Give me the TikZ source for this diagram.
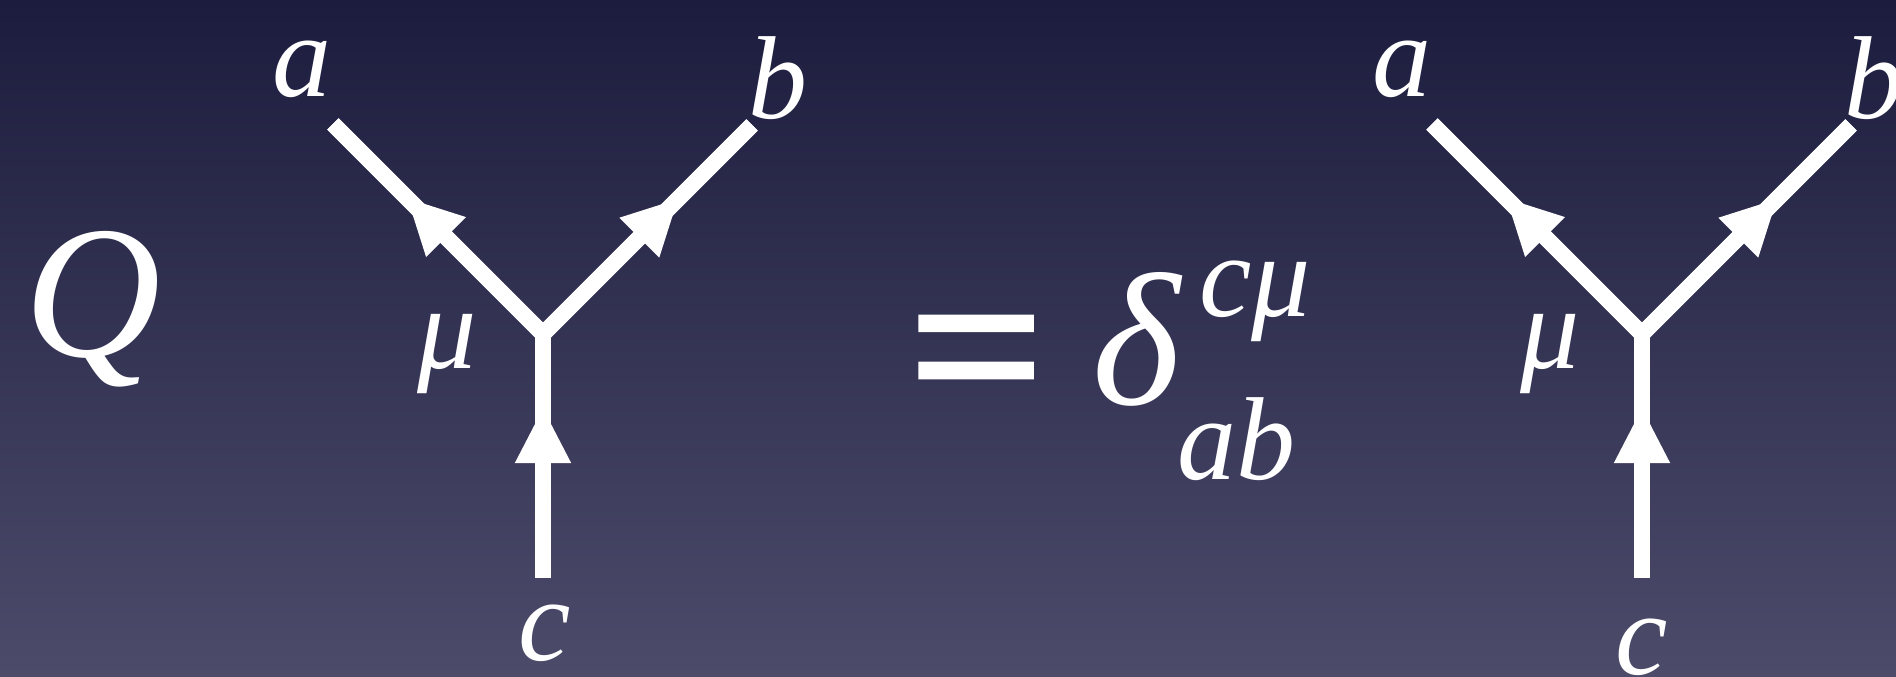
\documentclass[tikz,border=0pt]{standalone}
\usepackage{fontspec}
\setmainfont{Liberation Serif}
\newfontfamily\eqfont{Liberation Serif}[FakeBold=2.5]
\usetikzlibrary{arrows.meta,decorations.markings,calc}
\definecolor{bgtop}{RGB}{28,28,62}
\definecolor{bgbot}{RGB}{76,75,106}
\begin{document}
\begin{tikzpicture}[x=1pt,y=1pt,
  leg/.style={white,line width=16pt,line cap=butt,line join=miter},
  midarrow/.style={postaction={decorate},decoration={markings,mark=at position #1 with {\arrow{Triangle[length=56pt,width=52pt]}}}},
  lbl/.style={text=white,font=\fontsize{118}{118}\selectfont\itshape,inner sep=0pt,anchor=base},
  big/.style={text=white,font=\fontsize{189}{189}\selectfont\itshape,inner sep=0pt,anchor=base},
  eqsign/.style={text=white,font=\fontsize{235}{235}\eqfont,inner sep=0pt,anchor=base}]
\shade[top color=bgtop,bottom color=bgbot] (0,0) rectangle (1896,677);
\useasboundingbox (0,0) rectangle (1896,677);
% left vertex
\coordinate (v1) at (543,343);
\coordinate (e1a) at (333,553);
\coordinate (e1b) at (752,552);
\coordinate (e1c) at (543,99);
\draw[leg] (e1a) -- (v1) -- (e1b);
\draw[leg,midarrow=0.65] (v1) -- (e1a);
\draw[leg,midarrow=0.65] (v1) -- (e1b);
\draw[leg,midarrow=0.70] (e1c) -- (v1);
% right vertex
\coordinate (v2) at (1642,343);
\coordinate (e2a) at (1432,553);
\coordinate (e2b) at (1851,552);
\coordinate (e2c) at (1642,99);
\draw[leg] (e2a) -- (v2) -- (e2b);
\draw[leg,midarrow=0.65] (v2) -- (e2a);
\draw[leg,midarrow=0.65] (v2) -- (e2b);
\draw[leg,midarrow=0.70] (e2c) -- (v2);
% labels
\node[big] (Q) at (93,320) {Q};
\node[lbl] (la1) at (302,580) {a};
\node[lbl] (lb1) at (778,558) {b};
\node[lbl] (lm1) at (447,308) {μ};
\node[lbl] (lc1) at (545,16) {c};
\node[lbl] (la2) at (1402,580) {a};
\node[lbl] (lb2) at (1874,558) {b};
\node[lbl] (lm2) at (1550,308) {μ};
\node[lbl] (lc2) at (1642,2) {c};
\node[eqsign] (eq) at (976,252) {=};
\node[big] (delta) at (1136,272) {δ};
\node[lbl] (sup) at (1255,360) {cμ};
\node[lbl] (sub) at (1236,197) {ab};
\end{tikzpicture}
\end{document}
